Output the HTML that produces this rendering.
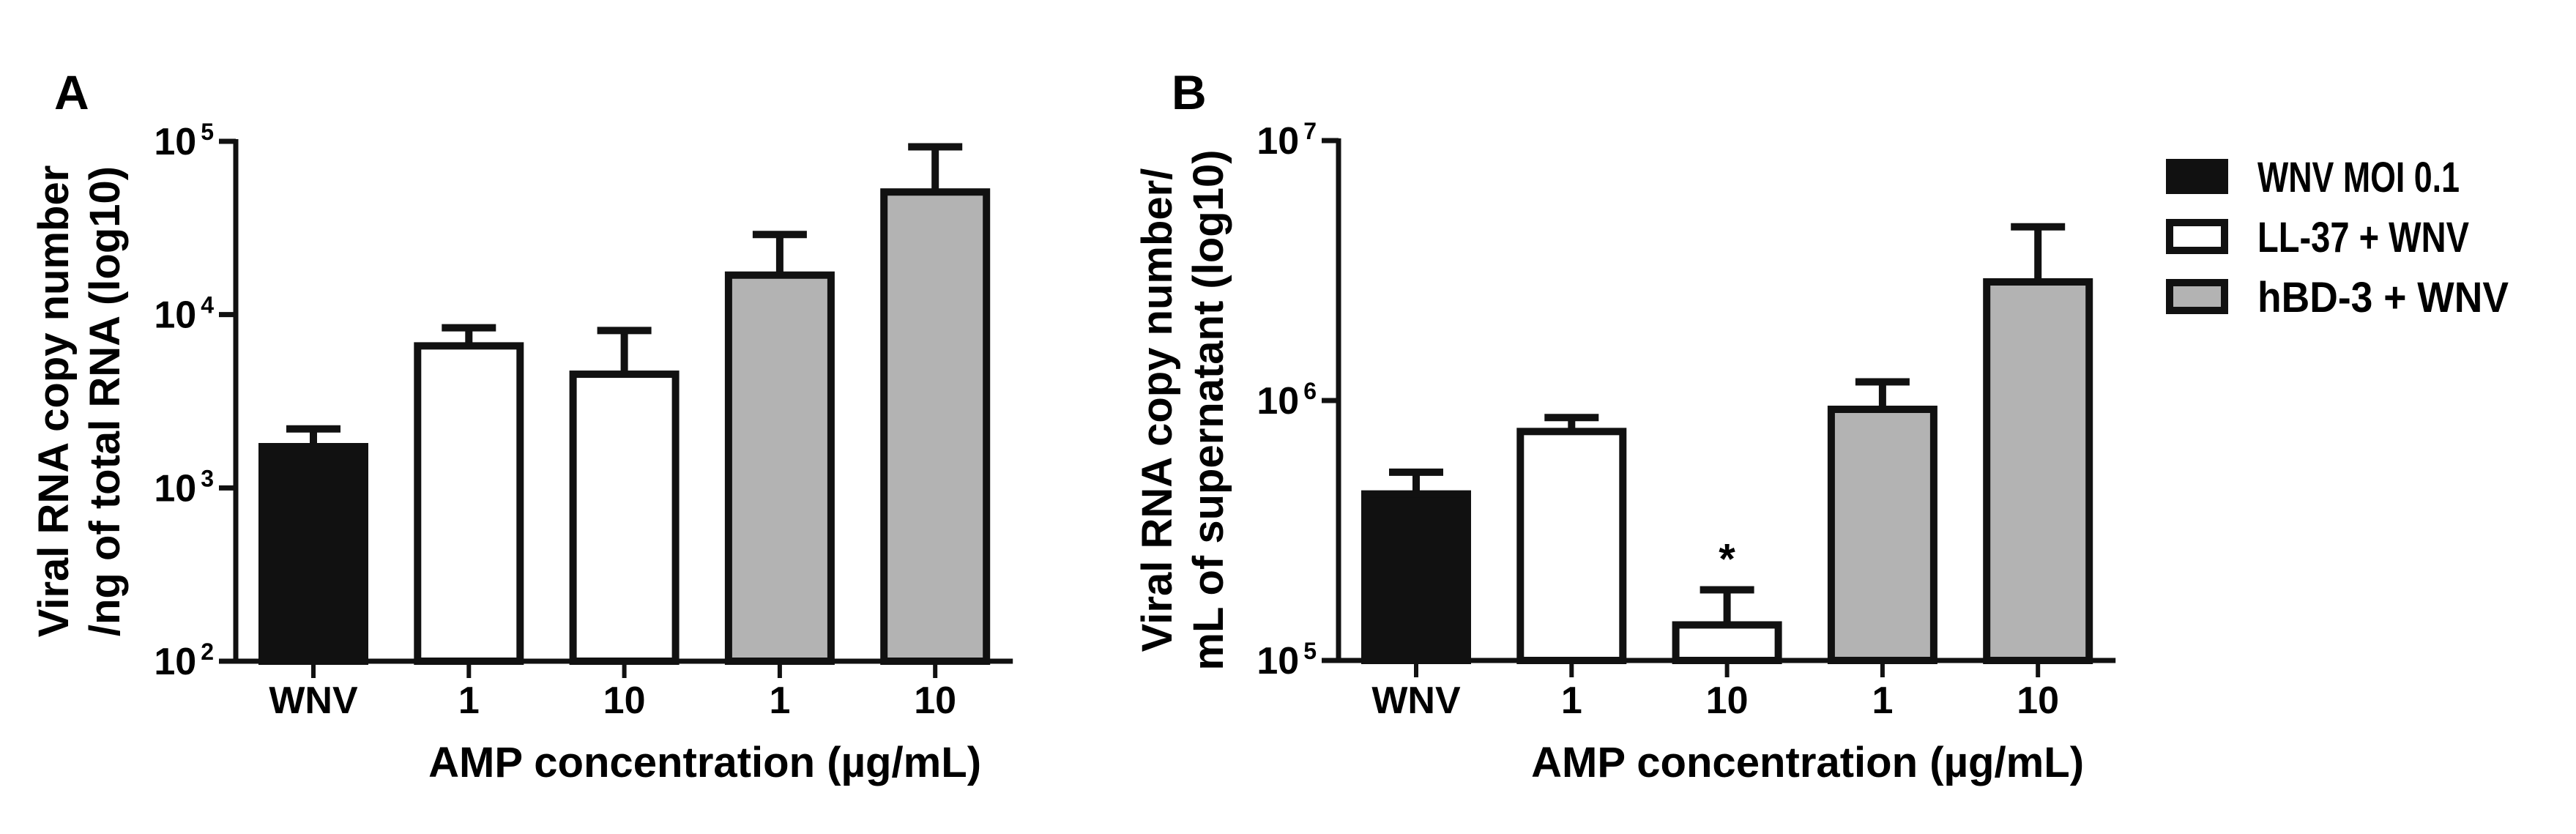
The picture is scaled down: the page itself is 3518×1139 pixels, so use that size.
<!DOCTYPE html>
<html><head><meta charset="utf-8"><style>
html,body{margin:0;padding:0;background:#fff}
svg{display:block;font-family:"Liberation Sans",Arial,sans-serif;font-weight:bold}
</style></head><body>
<svg id="c" width="3518" height="1139" viewBox="0 0 3518 1139" xmlns="http://www.w3.org/2000/svg">
<rect width="3518" height="1139" fill="#fff"/>
<text x="74" y="149" font-size="66">A</text>
<text x="1600" y="149" font-size="66">B</text>
<g>
<rect x="2963" y="222" width="75" height="38" fill="#111" stroke="#111" stroke-width="10"/>
<text x="3083" y="262" font-size="58" textLength="276" lengthAdjust="spacingAndGlyphs">WNV MOI 0.1</text>
<rect x="2963" y="304" width="75" height="38" fill="#fff" stroke="#111" stroke-width="10"/>
<text x="3083" y="344" font-size="58" textLength="289" lengthAdjust="spacingAndGlyphs">LL-37 + WNV</text>
<rect x="2963" y="386" width="75" height="38" fill="#b3b3b3" stroke="#111" stroke-width="10"/>
<text x="3083" y="426" font-size="58" textLength="343" lengthAdjust="spacingAndGlyphs">hBD-3 + WNV</text>
</g>
</svg>
<script>
const categories = ["WNV", "1", "10", "1", "10"];
const barFills = ["#111111", "#ffffff", "#ffffff", "#b3b3b3", "#b3b3b3"];
const valuesA = [1730, 6600, 4530, 16900, 51000];
const errTopA = [2190, 8400, 8100, 29000, 93000];
const ticksA = [2, 3, 4, 5];
const valuesB = [437000, 760000, 137000, 925000, 2860000];
const errTopB = [530000, 860000, 187000, 1180000, 4660000];
const ticksB = [5, 6, 7];
const sigB = ["", "", "*", "", ""];

const NS = "http://www.w3.org/2000/svg";
const svg = document.getElementById("c");
function mk(tag, attrs, parent) {
  const e = document.createElementNS(NS, tag);
  for (const k in attrs) e.setAttribute(k, attrs[k]);
  (parent || svg).appendChild(e);
  return e;
}
function panel(p) {
  const g = mk("g", {});
  
  
  const minL = p.ticks[0], maxL = p.ticks[p.ticks.length - 1];
  const y = v => p.yBot - (Math.log10(v) - minL) / (maxL - minL) * (p.yBot - p.yTop);
  const yl = l => p.yBot - (l - minL) / (maxL - minL) * (p.yBot - p.yTop);
  const x = i => p.ax + 106 + i * 212.3;
  p.values.forEach((v, i) => {
    const cx = x(i), top = y(v), et = y(p.err[i]);
    const el = mk("line", {x1: cx, x2: cx, y1: et, y2: top, stroke: "#111", "stroke-width": 10}, g);
    
    
    const cap = mk("line", {x1: cx - 37, x2: cx + 37, y1: et, y2: et, stroke: "#111", "stroke-width": 10}, g);
    
    
    const r = mk("rect", {x: cx - 70, y: top, width: 140, height: p.yBot - top, fill: barFills[i], stroke: "#111", "stroke-width": 10}, g);
    
    
    const t = mk("line", {x1: cx, x2: cx, y1: p.yBot, y2: p.yBot + 23, stroke: "#111", "stroke-width": 6}, g);
    
    
    const lb = mk("text", {x: cx, y: 974, "font-size": 52, "text-anchor": "middle"}, g);
    lb.textContent = categories[i];
    
    
    if (p.sig && p.sig[i]) {
      const s = mk("text", {x: cx, y: et - 22, "font-size": 58, "text-anchor": "middle"}, g);
      s.textContent = p.sig[i];
      
      
    }
  });
  const ya = mk("line", {x1: p.ax, x2: p.ax, y1: p.yTop - 3, y2: p.yBot + 3, stroke: "#111", "stroke-width": 7}, g);
  
  
  const xa = mk("line", {x1: p.ax, x2: p.ax + 106 * 2 + 212.3 * 4, y1: p.yBot, y2: p.yBot, stroke: "#111", "stroke-width": 7}, g);
  
  
  p.ticks.forEach(l => {
    const yy = yl(l);
    const t = mk("line", {x1: p.ax - 23, x2: p.ax, y1: yy, y2: yy, stroke: "#111", "stroke-width": 7}, g);
    
    
    const tx = mk("text", {x: p.ax - 30, y: yy + 18, "font-size": 52, "text-anchor": "end"}, g);
    
    
    const a = mk("tspan", {}, tx); a.textContent = "10";
    const b = mk("tspan", {"font-size": 32, dy: -20, dx: 6}, tx); b.textContent = String(l);
  });
  const xt = mk("text", {x: p.ax + 106 + 212.3 * 2 + 110, y: 1061, "font-size": 58, "text-anchor": "middle", textLength: 755, lengthAdjust: "spacingAndGlyphs"}, g);
  xt.textContent = "AMP concentration (µg/mL)";
  
  
  p.ylab.forEach((s, k) => {
    const cx = p.ylx[k], cy = p.yly;
    const t = mk("text", {x: cx, y: cy, "font-size": 58, "text-anchor": "middle", transform: "rotate(-90 " + cx + " " + cy + ")"}, g);
    t.textContent = s;
    
    
  });
}
panel({id: "panel-a", ax: 322, yTop: 193, yBot: 903, ticks: ticksA, values: valuesA, err: errTopA,
  ylab: ["Viral RNA copy number", "/ng of total RNA (log10)"], ylx: [93, 163], yly: 548});
panel({id: "panel-b", ax: 1828, yTop: 192, yBot: 902, ticks: ticksB, values: valuesB, err: errTopB, sig: sigB,
  ylab: ["Viral RNA copy number/", "mL of supernatant (log10)"], ylx: [1600, 1670], yly: 560});
</script>
</body></html>
